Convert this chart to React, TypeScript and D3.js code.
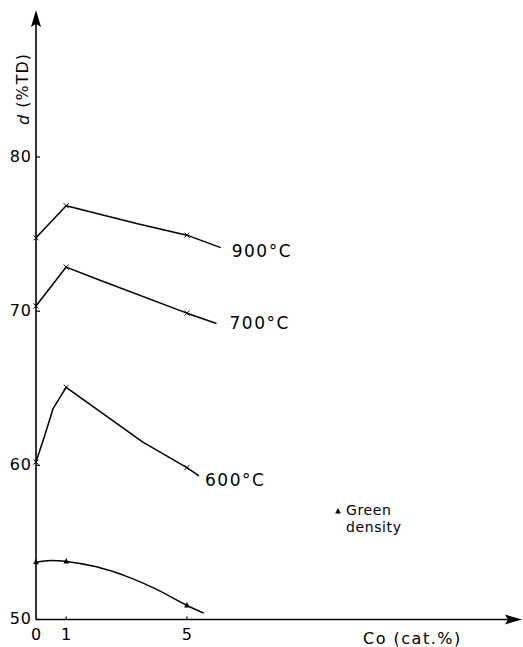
import React from "react";
import * as d3 from "d3";

// Trace points (co in cat.%, density in %TD)
const co900 = [0, 1, 3.33, 5, 6.12];
const d900 = [74.76, 76.84, 75.69, 74.93, 74.12];
const co700 = [0, 1, 2.12, 5, 5.98];
const d700 = [70.34, 72.86, 72.01, 69.87, 69.2];
const co600 = [0, 0.3, 0.57, 1, 3.54, 5, 5.4];
const d600 = [60.21, 62.0, 63.7, 65.06, 61.51, 59.85, 59.31];
const coGreen = [0, 0.5, 1, 2, 3, 4, 5, 5.56];
const dGreen = [53.72, 53.83, 53.77, 53.42, 52.8, 51.95, 50.91, 50.41];

// measured compositions (marker positions)
const markerCo = [0, 1, 5];

const seriesLabels = ["900°C", "700°C", "600°C"];
const yTicks = [50, 60, 70, 80];
const xTicks = [0, 1, 5];

const W = 523;
const H = 647;
const FONT = "DejaVu Sans, sans-serif";

export default function App() {
  const x = d3.scaleLinear().domain([0, 16.1]).range([36, 522]);
  const y = d3.scaleLinear().domain([50, 80]).range([619.5, 157]);
  const line = d3
    .line<[number, number]>()
    .x((d) => x(d[0]))
    .y((d) => y(d[1]))
    .curve(d3.curveLinear);
  const smooth = d3
    .line<[number, number]>()
    .x((d) => x(d[0]))
    .y((d) => y(d[1]))
    .curve(d3.curveMonotoneX);

  const series = [
    { co: co900, d: d900 },
    { co: co700, d: d700 },
    { co: co600, d: d600 },
  ];
  const labelOffsets = [
    [11, 3],
    [13, -1],
    [6, 4],
  ];

  const valAt = (co: number[], d: number[], c: number) => d[co.indexOf(c)];

  const x0 = x(0);
  const yAxis = y(50);

  return (
    <svg
      width={W}
      height={H}
      style={{ position: "absolute", left: 0, top: 0, background: "#fff" }}
      fontFamily={FONT}
    >
      <rect width={W} height={H} fill="#fff" />
      {/* axes */}
      <line x1={x0} y1={yAxis} x2={x0} y2={24} stroke="#000" strokeWidth={1.6} />
      <path d={`M${x0},10 L${x0 - 5},27 L${x0},24 L${x0 + 5},27 Z`} fill="#000" />
      <line x1={x0} y1={yAxis} x2={508} y2={yAxis} stroke="#000" strokeWidth={1.6} />
      <path
        d={`M522,${yAxis} L505,${yAxis - 5} L508,${yAxis} L505,${yAxis + 5} Z`}
        fill="#000"
      />
      {/* y ticks */}
      {yTicks.map((t) => (
        <g key={t}>
          <line x1={x0} x2={x0 + 4} y1={y(t)} y2={y(t)} stroke="#000" strokeWidth={1.2} />
          <text
            x={x0 - 4}
            y={y(t) - 1}
            textAnchor="end"
            dominantBaseline="central"
            fontSize={16}
            letterSpacing={1}
          >
            {t}
          </text>
        </g>
      ))}
      {/* x ticks */}
      {xTicks.map((t) => (
        <g key={t}>
          {t > 0 && (
            <line x1={x(t)} x2={x(t)} y1={yAxis} y2={yAxis - 3} stroke="#000" strokeWidth={1.2} />
          )}
          <text x={x(t)} y={634} textAnchor="middle" dominantBaseline="central" fontSize={16}>
            {t}
          </text>
        </g>
      ))}
      {/* axis titles */}
      <text
        transform={`translate(22.5,89) rotate(-90)`}
        textAnchor="middle"
        dominantBaseline="central"
        fontSize={16}
        letterSpacing={1}
      >
        <tspan fontStyle="italic">d</tspan> (%TD)
      </text>
      <text x={363} y={638} dominantBaseline="central" fontSize={16} letterSpacing={1.5}>
        Co (cat.%)
      </text>

      {/* sintered curves */}
      {series.map((s, i) => {
        const pts = s.co.map((c, j) => [c, s.d[j]] as [number, number]);
        const last = pts[pts.length - 1];
        return (
          <g key={i}>
            <path d={line(pts) || ""} fill="none" stroke="#000" strokeWidth={1.5} strokeLinejoin="round" />
            {markerCo.map((c) => {
              const px = x(c);
              const py = y(valAt(s.co, s.d, c));
              return (
                <path
                  key={c}
                  d={`M${px - 2.5},${py - 2.5}L${px + 2.5},${py + 2.5}M${px - 2.5},${py + 2.5}L${px + 2.5},${py - 2.5}`}
                  stroke="#000"
                  strokeWidth={1}
                />
              );
            })}
            <text
              x={x(last[0]) + labelOffsets[i][0]}
              y={y(last[1]) + labelOffsets[i][1]}
              dominantBaseline="central"
              fontSize={17}
              letterSpacing={1.5}
            >
              {seriesLabels[i]}
            </text>
          </g>
        );
      })}

      {/* green density */}
      <path
        d={smooth(coGreen.map((c, j) => [c, dGreen[j]] as [number, number])) || ""}
        fill="none"
        stroke="#000"
        strokeWidth={1.5}
      />
      {markerCo.map((c) => {
        const px = x(c);
        const py = y(valAt(coGreen, dGreen, c));
        return (
          <path
            key={c}
            d={`M${px},${py - 3.5}L${px + 2.8},${py + 2}L${px - 2.8},${py + 2}Z`}
            fill="#000"
          />
        );
      })}

      {/* legend */}
      <path d="M338,508L340.8,513.5L335.2,513.5Z" fill="#000" />
      <text x={346} y={510} dominantBaseline="central" fontSize={14} letterSpacing={0.6}>
        Green
      </text>
      <text x={346} y={527} dominantBaseline="central" fontSize={14} letterSpacing={0.6}>
        density
      </text>
    </svg>
  );
}
